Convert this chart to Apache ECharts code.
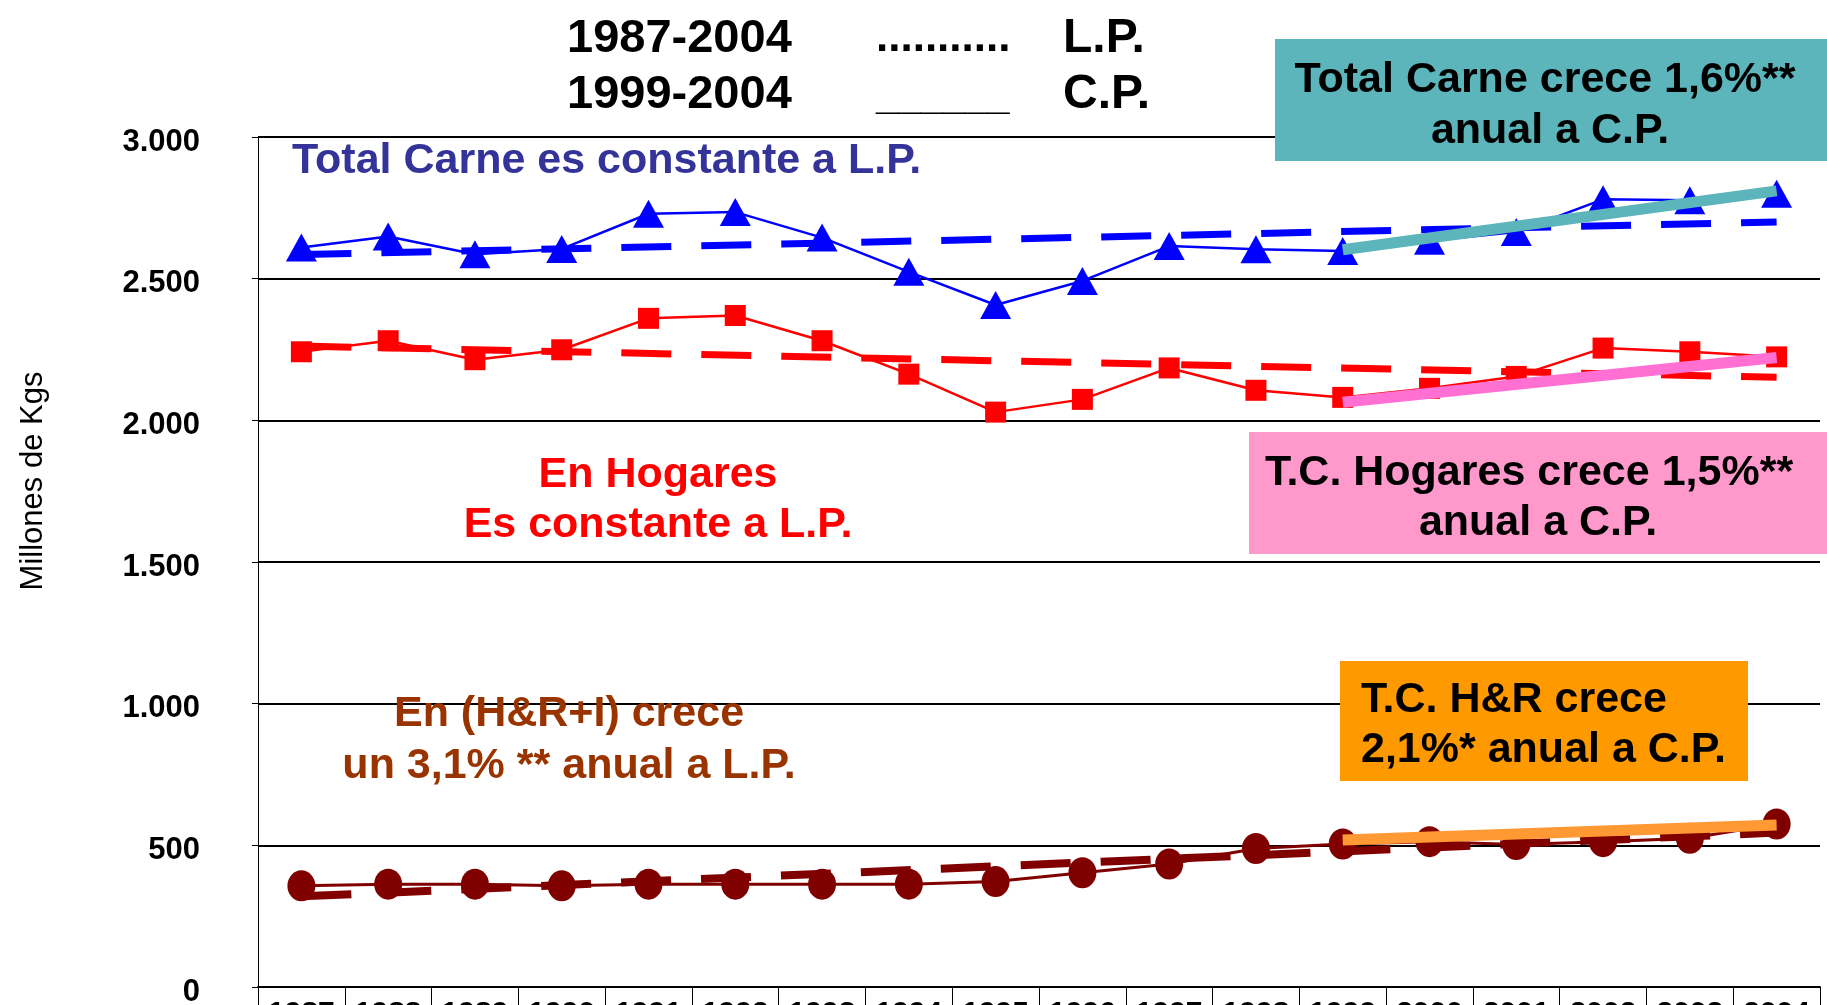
<!DOCTYPE html>
<html>
<head>
<meta charset="utf-8">
<script src="https://cdn.jsdelivr.net/npm/echarts@6/dist/echarts.min.js"></script>
<style>
  html, body { margin: 0; padding: 0; background: #fff; }
  #chart { width: 1827px; height: 1005px; }
</style>
</head>
<body>
<div id="chart"></div>
<script>
// años del eje X
const years = ['1987', '1988', '1989', '1990', '1991', '1992', '1993', '1994', '1995',
    '1996', '1997', '1998', '1999', '2000', '2001', '2002', '2003', '2004'];

// millones de kgs
const totalCarne = [2610, 2649, 2586, 2605, 2729, 2735, 2645, 2524, 2407, 2492, 2615, 2604, 2598, 2634, 2665, 2780, 2777, 2800];
const hogares = [2242, 2281, 2214, 2249, 2360, 2370, 2281, 2163, 2029, 2074, 2185, 2106, 2081, 2113, 2155, 2255, 2242, 2224];
const hri = [357, 363, 363, 357, 363, 363, 363, 363, 372, 403, 434, 489, 505, 513, 503, 513, 525, 575];

// tendencias: largo plazo 1987-2004, corto plazo 1999-2004 (extremos)
const totalLP = [['1987', 2585], ['2004', 2700]];
const hogaresLP = [['1987', 2262], ['2004', 2152]];
const hriLP = [['1987', 320], ['2004', 545]];
const totalCP = [['1999', 2602], ['2004', 2810]];
const hogaresCP = [['1999', 2064], ['2004', 2222]];
const hriCP = [['1999', 519], ['2004', 572]];

const yTicks = [0, 500, 1000, 1500, 2000, 2500, 3000];

const FONT = '"Liberation Sans", Arial, sans-serif';

function txt(x, y, text, color, align, size) {
    return {
        type: 'text',
        x: x,
        y: y + 3,
        z: 100,
        style: {
            text: text,
            fill: color,
            font: 'bold ' + (size || 43) + 'px ' + FONT,
            textAlign: align || 'center',
            textVerticalAlign: 'middle'
        }
    };
}

function box(x, y, w, h, color) {
    return {
        type: 'rect',
        z: 90,
        shape: {x: x, y: y, width: w, height: h},
        style: {fill: color}
    };
}

function dashed(data, color, width) {
    return {
        type: 'line',
        data: data,
        symbol: 'none',
        z: 2,
        lineStyle: {color: color, width: width, type: [50, 30]}
    };
}

function cp(data, color) {
    return {
        type: 'line',
        data: data,
        symbol: 'none',
        z: 5,
        lineStyle: {color: color, width: 11, cap: 'butt'}
    };
}

const chart = echarts.init(document.getElementById('chart'));
chart.setOption({
    animation: false,
    textStyle: {fontFamily: FONT},
    grid: {left: 258, right: 7, top: 137, bottom: 18, containLabel: false, outerBoundsMode: 'none'},
    xAxis: {
        type: 'category',
        data: years,
        boundaryGap: true,
        axisLine: {lineStyle: {color: '#000', width: 2}},
        axisTick: {show: true, length: 30, interval: 0, lineStyle: {color: '#000', width: 1}},
        axisLabel: {interval: 0, margin: 12, fontSize: 30, fontWeight: 'bold', color: '#000'}
    },
    yAxis: {
        type: 'value',
        min: yTicks[0],
        max: yTicks[yTicks.length - 1],
        interval: 500,
        axisLine: {show: true, lineStyle: {color: '#000', width: 1}},
        axisTick: {show: true, length: 6, lineStyle: {color: '#000'}},
        axisLabel: {
            margin: 58,
            fontSize: 31,
            fontWeight: 'bold',
            color: '#000',
            verticalAlign: 'top',
            lineHeight: 10,
            formatter: v => v >= 1000 ? Math.floor(v / 1000) + '.' + String(v % 1000).padStart(3, '0') : String(v)
        },
        splitLine: {lineStyle: {color: '#000', width: 2}}
    },
    series: [
        dashed(totalLP, '#0000FF', 7),
        dashed(hogaresLP, '#FF0000', 7),
        dashed(hriLP, '#800000', 8),
        {
            type: 'line',
            data: totalCarne,
            z: 3,
            symbol: 'triangle',
            symbolSize: [31, 28],
            lineStyle: {color: '#0000FF', width: 2.5},
            itemStyle: {color: '#0000FF'}
        },
        {
            type: 'line',
            data: hogares,
            z: 3,
            symbol: 'rect',
            symbolSize: 21,
            lineStyle: {color: '#FF0000', width: 2.5},
            itemStyle: {color: '#FF0000'}
        },
        {
            type: 'line',
            data: hri,
            z: 3,
            symbol: 'circle',
            symbolSize: [28, 31],
            lineStyle: {color: '#800000', width: 3},
            itemStyle: {color: '#800000'}
        },
        cp(totalCP, '#5BB5BA'),
        cp(hogaresCP, '#FF70D2'),
        cp(hriCP, '#FF9933')
    ],
    graphic: [
        {
            type: 'text',
            x: 33,
            y: 481,
            rotation: Math.PI / 2,
            z: 100,
            style: {
                text: 'Millones de Kgs',
                fill: '#000',
                font: '31px ' + FONT,
                textAlign: 'center',
                textVerticalAlign: 'middle'
            }
        },
        txt(567, 36, '1987-2004', '#000', 'left', 47),
        txt(876, 36, '...........', '#000', 'left', 44),
        txt(1063, 36, 'L.P.', '#000', 'left', 48),
        txt(567, 92, '1999-2004', '#000', 'left', 47),
        txt(876, 95, '______', '#000', 'left', 40),
        txt(1063, 92, 'C.P.', '#000', 'left', 48),
        txt(292, 158, 'Total Carne es constante a L.P.', '#333399', 'left'),
        box(1275, 39, 552, 122, '#5BB5BB'),
        txt(1545, 77, 'Total Carne crece 1,6%**', '#000'),
        txt(1550, 128, 'anual a C.P.', '#000'),
        box(1249, 432, 578, 122, '#FF99CC'),
        txt(1529, 470, 'T.C. Hogares crece 1,5%**', '#000'),
        txt(1538, 520, 'anual a C.P.', '#000'),
        box(1340, 661, 408, 120, '#FF9900'),
        txt(1361, 697, 'T.C. H&R crece', '#000', 'left'),
        txt(1361, 747, '2,1%* anual a C.P.', '#000', 'left'),
        txt(658, 472, 'En Hogares', '#FF0000'),
        txt(658, 522, 'Es constante a L.P.', '#FF0000'),
        txt(569, 711, 'En (H&R+I) crece', '#993300'),
        txt(569, 763, 'un 3,1% ** anual a L.P.', '#993300')
    ]
});
</script>
</body>
</html>
